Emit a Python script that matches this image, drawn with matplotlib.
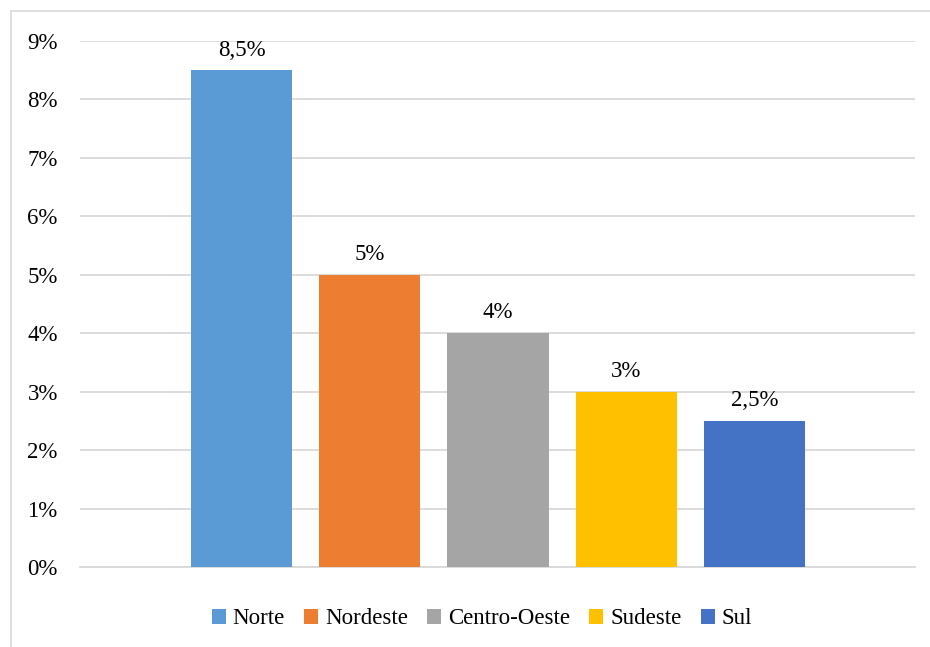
import matplotlib

matplotlib.use("Agg")
import matplotlib.pyplot as plt  # noqa: E402
from matplotlib.patches import Rectangle  # noqa: E402

regions = ["Norte", "Nordeste", "Centro-Oeste", "Sudeste", "Sul"]
values = [8.5, 5.0, 4.0, 3.0, 2.5]
value_labels = ["8,5%", "5%", "4%", "3%", "2,5%"]
colors = ["#5B9BD5", "#ED7D31", "#A5A5A5", "#FFC000", "#4472C4"]
yticks = list(range(0, 10))

plt.rcParams["font.family"] = ["Liberation Serif", "DejaVu Serif"]

fig = plt.figure(figsize=(9.3, 6.47), dpi=100)
fig.patches.append(Rectangle((11 / 930, -0.1), 1.2, (647 - 11) / 647 + 0.1,
                             transform=fig.transFigure, fill=False,
                             edgecolor="#d9d9d9", linewidth=1.2))

ax = fig.add_axes([80 / 930, (647 - 567) / 647, (915 - 80) / 930, 526 / 647])

for i, (name, v, lab, c) in enumerate(zip(regions, values, value_labels, colors)):
    ax.bar(i, v, width=0.79, color=c, label=name, zorder=3)
    ax.annotate(lab, (i, v), xytext=(0, 7), textcoords="offset points",
                ha="center", va="bottom", fontsize=16.5, color="#000000")

ax.set_xlim(-1.262, 5.254)
ax.set_ylim(0, 9)
ax.set_yticks(yticks)
ax.set_yticklabels([f"{t}%" for t in yticks], fontsize=16.5)
ax.set_xticks([])
ax.yaxis.grid(True, color="#d9d9d9", linewidth=1.3, zorder=0)
for s in ["top", "right", "left"]:
    ax.spines[s].set_visible(False)
ax.spines["bottom"].set_color("#d9d9d9")
ax.spines["bottom"].set_linewidth(1.3)
ax.tick_params(axis="y", length=0, pad=16)

fig.legend(loc="center", bbox_to_anchor=(482 / 930, 1 - 619 / 647), ncol=5,
           frameon=False, fontsize=16.5, handlelength=0.6, handleheight=0.6,
           handletextpad=0.3, columnspacing=0.85)

fig.savefig("out.png", dpi=100)
